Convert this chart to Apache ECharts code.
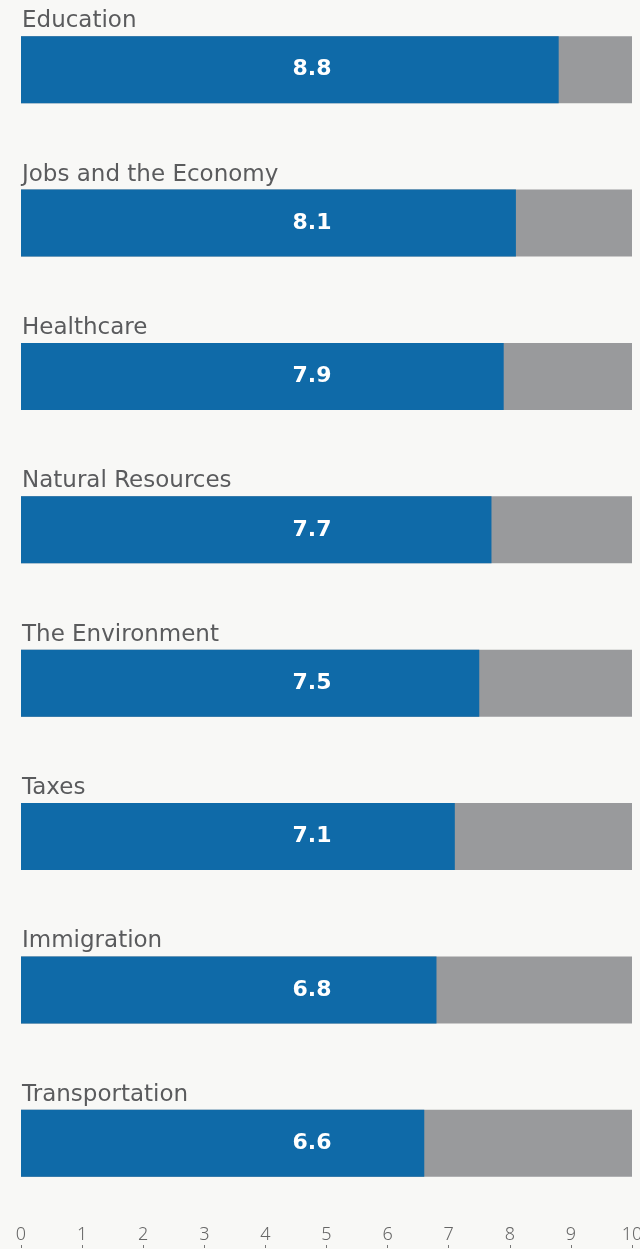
<!DOCTYPE html>
<html><head><meta charset="utf-8">
<script src="https://cdn.jsdelivr.net/npm/echarts@6/dist/echarts.min.js"></script>
<style>html,body{margin:0;padding:0;background:#f8f8f6;}#c{width:640px;height:1249px;}</style>
</head><body><div id="c"></div>
<script>
const categories = ["Education","Jobs and the Economy","Healthcare","Natural Resources","The Environment","Taxes","Immigration","Transportation"];
const scores = [8.8, 8.1, 7.9, 7.7, 7.5, 7.1, 6.8, 6.6];
const scaleMax = 10;
const tickValues = [0,1,2,3,4,5,6,7,8,9,10];

const chart = echarts.init(document.getElementById('c'), null, {renderer:'canvas'});
chart.setOption({
  backgroundColor:'#f8f8f6',
  animation:false,
  grid:{left:21, right:8, top:-7, bottom:29, containLabel:false, outerBoundsMode:'none'},
  xAxis:{type:'value', min:0, max:scaleMax, interval:1,
    position:'bottom', offset:28,
    axisLine:{show:false},
    axisTick:{show:true, inside:true, length:3, lineStyle:{color:'#777',width:1}},
    axisLabel:{inside:true, margin:4, color:'#666', fontFamily:'Noto Sans', fontSize:18, fontWeight:300},
    splitLine:{show:false}},
  yAxis:{type:'category', data:categories, inverse:true, show:false},
  series:[
    {type:'bar', data:categories.map(()=>scaleMax), barWidth:67, barGap:'-100%',
      itemStyle:{color:'#999a9c'}, silent:true,
      label:{show:true, position:[1,-15], align:'left', verticalAlign:'middle',
        formatter:p=>p.name, color:'#5a5b5d', fontFamily:'DejaVu Sans', fontSize:23}},
    {type:'bar', data:scores, barWidth:67, barGap:'-100%',
      itemStyle:{color:'#0f6aa8'},
      label:{show:true, position:[291,'50%'], align:'center', verticalAlign:'middle',
        formatter:p=>p.value.toFixed(1), color:'#ffffff', fontFamily:'DejaVu Sans', fontWeight:'bold', fontSize:22}}
  ]
});
</script></body></html>
